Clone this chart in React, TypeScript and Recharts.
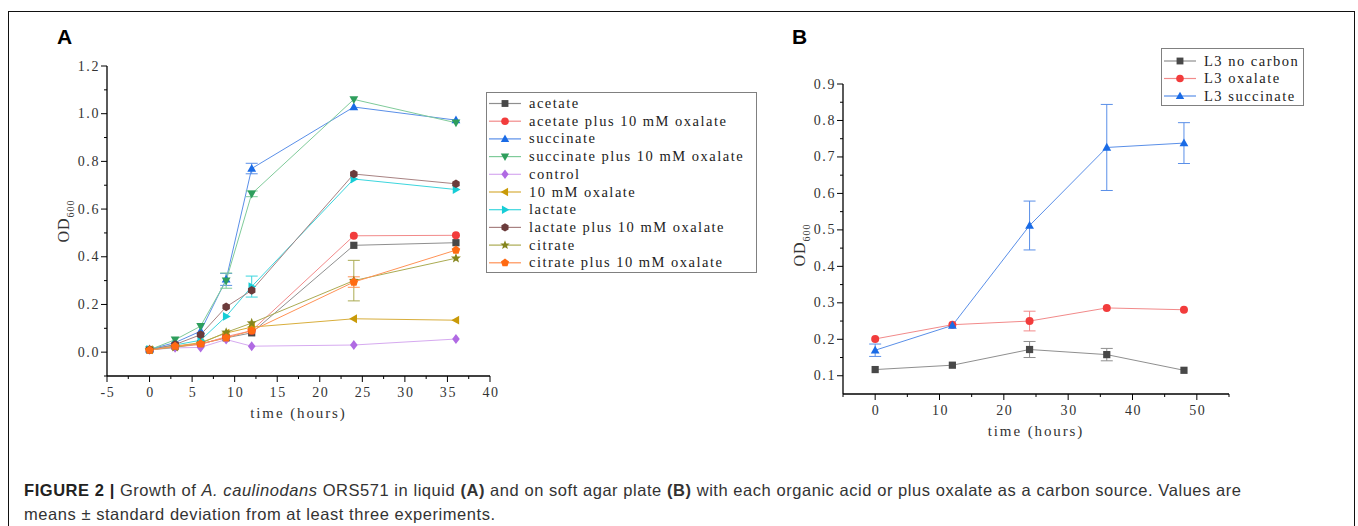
import React from 'react'
import { LineChart, Line, XAxis, YAxis, ErrorBar, Legend } from 'recharts'

// ---- Panel A: growth in liquid ----
const hoursA = [0, 3, 6, 9, 12, 24, 36]
const acetate = [0.01, 0.025, 0.035, 0.06, 0.081, 0.448, 0.459]
const acetateOx = [0.01, 0.022, 0.032, 0.065, 0.09, 0.488, 0.49]
const succinate = [0.012, 0.04, 0.088, 0.305, 0.77, 1.028, 0.973]
const succinateOx = [0.01, 0.052, 0.109, 0.3, 0.664, 1.06, 0.962]
const control = [0.01, 0.018, 0.02, 0.053, 0.025, 0.03, 0.055]
const oxalate = [0.01, 0.025, 0.04, 0.08, 0.105, 0.14, 0.134]
const lactate = [0.012, 0.03, 0.05, 0.15, 0.275, 0.726, 0.682]
const lactateOx = [0.01, 0.032, 0.073, 0.19, 0.259, 0.747, 0.706]
const citrate = [0.01, 0.02, 0.037, 0.083, 0.122, 0.3, 0.394]
const citrateOx = [0.008, 0.025, 0.035, 0.06, 0.09, 0.294, 0.428]

const succinateErr = [null, null, null, 0.025, 0.022, null, null]
const succinateOxErr = [null, null, null, 0.032, 0.012, null, null]
const lactateErr = [null, null, null, null, 0.044, null, null]
const citrateErr = [null, null, null, null, null, 0.085, null]
const citrateOxErr = [null, null, null, null, null, 0.022, null]

const xMajorA = [-5, 0, 5, 10, 15, 20, 25, 30, 35, 40]
const xMinorA = [-2.5, 2.5, 7.5, 12.5, 17.5, 22.5, 27.5, 32.5, 37.5]
const yMajorA = [0, 0.2, 0.4, 0.6, 0.8, 1.0, 1.2]
const yMinorA = [-0.1, 0.1, 0.3, 0.5, 0.7, 0.9, 1.1]

// ---- Panel B: soft agar plate ----
const hoursB = [0, 12, 24, 36, 48]
const noCarbon = [0.117, 0.129, 0.172, 0.158, 0.115]
const oxalateB = [0.201, 0.24, 0.25, 0.286, 0.281]
const succinateB = [0.17, 0.238, 0.512, 0.726, 0.738]
const noCarbonErr = [null, null, 0.022, 0.017, null]
const oxalateBErr = [null, null, 0.027, null, null]
const succinateBErr = [0.017, null, 0.067, 0.118, 0.056]

const xMajorB = [0, 10, 20, 30, 40, 50]
const xMinorB = [-5, 5, 15, 25, 35, 45, 55]
const yMajorB = [0.1, 0.2, 0.3, 0.4, 0.5, 0.6, 0.7, 0.8, 0.9]
const yMinorB = [0.15, 0.25, 0.35, 0.45, 0.55, 0.65, 0.75, 0.85]

// SimSun-like look: thin serif spread out to monospace widths
const SERIF = '"Liberation Serif", "DejaVu Serif", serif'
const SANS = '"Liberation Sans", Arial, Helvetica, sans-serif'

const seriesA = [
  { key: 'acetate', name: 'acetate', values: acetate, err: null, line: '#8f8f8f', fill: '#484848', shape: 'square' },
  { key: 'acetateOx', name: 'acetate plus 10 mM oxalate', values: acetateOx, err: null, line: '#f28a8a', fill: '#f23c3c', shape: 'circle' },
  { key: 'succinate', name: 'succinate', values: succinate, err: succinateErr, line: '#5a8fe8', fill: '#1a6be6', shape: 'up' },
  { key: 'succinateOx', name: 'succinate plus 10 mM oxalate', values: succinateOx, err: succinateOxErr, line: '#7fcb9a', fill: '#2e9e5c', shape: 'down' },
  { key: 'control', name: 'control', values: control, err: null, line: '#d6aaf0', fill: '#b06ae3', shape: 'diamond' },
  { key: 'oxalate', name: '10 mM oxalate', values: oxalate, err: null, line: '#d8ae3c', fill: '#c99a08', shape: 'left' },
  { key: 'lactate', name: 'lactate', values: lactate, err: lactateErr, line: '#3cd6de', fill: '#16cdd6', shape: 'right' },
  { key: 'lactateOx', name: 'lactate plus 10 mM oxalate', values: lactateOx, err: null, line: '#a88282', fill: '#6b3b3b', shape: 'hex' },
  { key: 'citrate', name: 'citrate', values: citrate, err: citrateErr, line: '#abab52', fill: '#85851c', shape: 'star' },
  { key: 'citrateOx', name: 'citrate plus 10 mM oxalate', values: citrateOx, err: citrateOxErr, line: '#ff9256', fill: '#ff6a12', shape: 'pentagon' },
]

const seriesB = [
  { key: 'noCarbon', name: 'L3 no carbon', values: noCarbon, err: noCarbonErr, line: '#8f8f8f', fill: '#484848', shape: 'square' },
  { key: 'oxalate', name: 'L3 oxalate', values: oxalateB, err: oxalateBErr, line: '#f28a8a', fill: '#f23c3c', shape: 'circle' },
  { key: 'succinate', name: 'L3 succinate', values: succinateB, err: succinateBErr, line: '#5a8fe8', fill: '#1a6be6', shape: 'up' },
]

function buildRows(hours: number[], series: any[]) {
  return hours.map((t, i) => {
    const row: any = { t }
    series.forEach((s) => {
      row[s.key] = s.values[i]
      if (s.err) row[s.key + 'Err'] = s.err[i]
    })
    return row
  })
}

const rowsA = buildRows(hoursA, seriesA)
const rowsB = buildRows(hoursB, seriesB)

function poly(cx: number, cy: number, r: number, pts: number[][]) {
  return pts.map(([px, py]) => `${cx + px * r},${cy + py * r}`).join(' ')
}

function ring(n: number, start: number, radii: number[]) {
  const out: number[][] = []
  for (let i = 0; i < n; i++) {
    const a = start + (i * 2 * Math.PI) / n
    const rr = radii[i % radii.length]
    out.push([Math.cos(a) * rr, Math.sin(a) * rr])
  }
  return out
}

function Mark({ shape, cx, cy, r, fill }: any) {
  if (cx == null || cy == null || isNaN(cy)) return null
  switch (shape) {
    case 'square':
      return <rect x={cx - r * 0.9} y={cy - r * 0.9} width={r * 1.8} height={r * 1.8} fill={fill} />
    case 'circle':
      return <circle cx={cx} cy={cy} r={r} fill={fill} />
    case 'up':
      return <polygon points={poly(cx, cy, r, [[0, -1.15], [-1.1, 0.8], [1.1, 0.8]])} fill={fill} />
    case 'down':
      return <polygon points={poly(cx, cy, r, [[0, 1.15], [-1.1, -0.8], [1.1, -0.8]])} fill={fill} />
    case 'left':
      return <polygon points={poly(cx, cy, r, [[-1.15, 0], [0.8, -1.1], [0.8, 1.1]])} fill={fill} />
    case 'right':
      return <polygon points={poly(cx, cy, r, [[1.15, 0], [-0.8, -1.1], [-0.8, 1.1]])} fill={fill} />
    case 'diamond':
      return <polygon points={poly(cx, cy, r, [[0, -1.25], [0.95, 0], [0, 1.25], [-0.95, 0]])} fill={fill} />
    case 'hex':
      return <polygon points={poly(cx, cy, r, ring(6, Math.PI / 2, [1.08]))} fill={fill} />
    case 'star':
      return <polygon points={poly(cx, cy, r, ring(10, -Math.PI / 2, [1.3, 0.55]))} fill={fill} />
    case 'pentagon':
      return <polygon points={poly(cx, cy, r, ring(5, -Math.PI / 2, [1.12]))} fill={fill} />
    default:
      return null
  }
}

const near = (list: number[], v: number) => list.some((m) => Math.abs(m - v) < 1e-6)

function XTick({ x, y, payload, majors, fmt }: any) {
  const major = near(majors, payload.value)
  return (
    <g>
      <line x1={x} x2={x} y1={y} y2={y + (major ? 6 : 3)} stroke="#000" strokeWidth={1} />
      {major && (
        <text x={x + 1} y={y + 21} textAnchor="middle" fontFamily={SERIF} fontSize={14} letterSpacing={1.6} fill="#333">
          {fmt(payload.value)}
        </text>
      )}
    </g>
  )
}

function YTick({ x, y, payload, majors, fmt }: any) {
  const major = near(majors, payload.value)
  return (
    <g>
      <line x1={x} x2={x - (major ? 6 : 3)} y1={y} y2={y} stroke="#000" strokeWidth={1} />
      {major && (
        <text x={x - 7} y={y + 4.5} textAnchor="end" fontFamily={SERIF} fontSize={14} letterSpacing={1.6} fill="#333">
          {fmt(payload.value)}
        </text>
      )}
    </g>
  )
}

function OdLabel({ viewBox, dx, dy }: any) {
  const cx = viewBox.x + dx
  const cy = viewBox.y + viewBox.height / 2 + dy
  return (
    <text transform={`translate(${cx},${cy}) rotate(-90)`} textAnchor="middle" fontFamily={SERIF} fontSize={16} letterSpacing={1} fill="#333">
      <tspan>OD</tspan>
      <tspan fontSize={10} dy={5}>600</tspan>
    </text>
  )
}

function TimeLabel({ viewBox, dy }: any) {
  return (
    <text x={viewBox.x + viewBox.width / 2} y={viewBox.y + dy} textAnchor="middle" fontFamily={SERIF} fontSize={15} letterSpacing={1.9} fill="#333">
      time (hours)
    </text>
  )
}

function LegendBox({ series, width, height, first, step }: any) {
  return (
    <div style={{ width, height, border: '1px solid #808080', background: '#fff', boxSizing: 'border-box' }}>
      <svg width={width - 2} height={height - 2} style={{ display: 'block' }}>
        {series.map((s: any, i: number) => {
          const cy = first + i * step
          return (
            <g key={s.key}>
              <line x1={2} x2={34} y1={cy} y2={cy} stroke={s.line} strokeWidth={1.2} />
              <Mark shape={s.shape} cx={18} cy={cy} r={3.8} fill={s.fill} />
              <text x={42} y={cy + 4.5} fontFamily={SERIF} fontSize={14.5} letterSpacing={1.5} fill="#222">
                {s.name}
              </text>
            </g>
          )
        })}
      </svg>
    </div>
  )
}

function renderSeries(series: any[]) {
  return series.map((s) => (
    <Line
      key={s.key}
      dataKey={s.key}
      name={s.name}
      type="linear"
      stroke={s.line}
      strokeWidth={1}
      isAnimationActive={false}
      activeDot={false}
      dot={(p: any) => <Mark key={`${s.key}-${p.index}`} shape={s.shape} cx={p.cx} cy={p.cy} r={4} fill={s.fill} />}
    >
      {s.err && (
        <ErrorBar dataKey={s.key + 'Err'} width={6} stroke={s.line} strokeWidth={1} direction="y" isAnimationActive={false} />
      )}
    </Line>
  ))
}

const fmtInt = (v: number) => String(v)
const fmt1 = (v: number) => v.toFixed(1)

export default function App() {
  return (
    <div style={{ position: 'absolute', left: 0, top: 0, width: 1358, height: 526, overflow: 'hidden', background: '#fff' }}>
      <div
        style={{
          position: 'absolute',
          left: 8,
          top: 11,
          width: 1347,
          height: 540,
          border: '1.5px solid #111',
          boxSizing: 'border-box',
        }}
      />
      <div style={{ position: 'absolute', left: 57, top: 25, fontFamily: SANS, fontWeight: 'bold', fontSize: 21, color: '#000' }}>A</div>
      <div style={{ position: 'absolute', left: 792, top: 25, fontFamily: SANS, fontWeight: 'bold', fontSize: 21, color: '#000' }}>B</div>

      {/* Panel A */}
      <div style={{ position: 'absolute', left: 0, top: 0 }}>
        <LineChart width={780} height={460} data={rowsA} margin={{ top: 66, right: 290, left: 47, bottom: 34 }}>
          <XAxis
            type="number"
            dataKey="t"
            domain={[-5, 40]}
            allowDataOverflow
            ticks={[...xMajorA, ...xMinorA].sort((a, b) => a - b)}
            interval={0}
            tickLine={false}
            tickSize={0}
            tickMargin={0}
            height={50}
            axisLine={{ stroke: '#000', strokeWidth: 1.3 }}
            tick={(p: any) => <XTick {...p} majors={xMajorA} fmt={fmtInt} />}
            label={<TimeLabel dy={42} />}
          />
          <YAxis
            type="number"
            domain={[-0.1, 1.2]}
            allowDataOverflow
            ticks={[...yMajorA, ...yMinorA].sort((a, b) => a - b)}
            interval={0}
            tickLine={false}
            tickSize={0}
            tickMargin={0}
            width={60}
            axisLine={{ stroke: '#000', strokeWidth: 1.3 }}
            tick={(p: any) => <YTick {...p} majors={yMajorA} fmt={fmt1} />}
            label={<OdLabel dx={22} dy={0} />}
          />
          <Legend
            layout="vertical"
            align="center"
            verticalAlign="middle"
            wrapperStyle={{ left: 486, top: 92, width: 271, height: 181 }}
            content={() => <LegendBox series={seriesA} width={271} height={181} first={10.5} step={17.7} />}
          />
          {renderSeries(seriesA)}
        </LineChart>
      </div>

      {/* Panel B */}
      <div style={{ position: 'absolute', left: 760, top: 0 }}>
        <LineChart width={560} height={460} data={rowsB} margin={{ top: 84, right: 91, left: 23, bottom: 16 }}>
          <XAxis
            type="number"
            dataKey="t"
            domain={[-5, 55]}
            allowDataOverflow
            ticks={[...xMajorB, ...xMinorB].sort((a, b) => a - b)}
            interval={0}
            tickLine={false}
            tickSize={0}
            tickMargin={0}
            height={50}
            axisLine={{ stroke: '#000', strokeWidth: 1.3 }}
            tick={(p: any) => <XTick {...p} majors={xMajorB} fmt={fmtInt} />}
            label={<TimeLabel dy={42} />}
          />
          <YAxis
            type="number"
            domain={[0.05, 0.9]}
            allowDataOverflow
            ticks={[...yMajorB, ...yMinorB].sort((a, b) => a - b)}
            interval={0}
            tickLine={false}
            tickSize={0}
            tickMargin={0}
            width={60}
            axisLine={{ stroke: '#000', strokeWidth: 1.3 }}
            tick={(p: any) => <YTick {...p} majors={yMajorB} fmt={fmt1} />}
            label={<OdLabel dx={22} dy={6} />}
          />
          <Legend
            layout="vertical"
            align="center"
            verticalAlign="middle"
            wrapperStyle={{ left: 401, top: 48, width: 143, height: 58 }}
            content={() => <LegendBox series={seriesB} width={143} height={58} first={12} step={17.5} />}
          />
          {renderSeries(seriesB)}
        </LineChart>
      </div>

      {/* Caption */}
      <div
        style={{
          position: 'absolute',
          left: 24,
          top: 478,
          width: 1320,
          fontFamily: SANS,
          fontSize: 16.5,
          letterSpacing: 0.55,
          lineHeight: '24px',
          color: '#333',
          whiteSpace: 'nowrap',
        }}
      >
        <b style={{ color: '#222' }}>FIGURE 2 |</b> Growth of <i>A. caulinodans</i> ORS571 in liquid <b>(A)</b> and on soft agar plate{' '}
        <b>(B)</b> with each organic acid or plus oxalate as a carbon source. Values are
        <br />
        means ± standard deviation from at least three experiments.
      </div>
    </div>
  )
}
